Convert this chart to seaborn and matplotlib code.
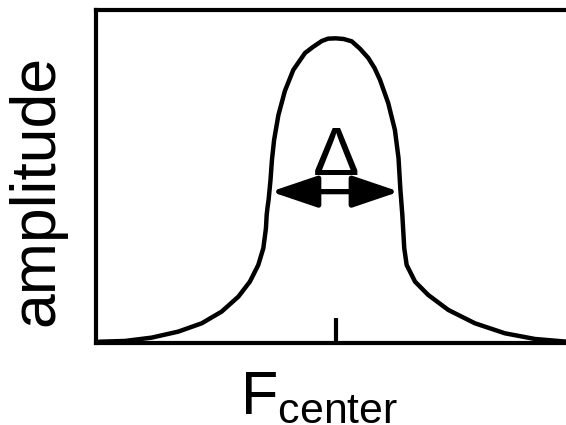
import numpy as np
import pandas as pd
import matplotlib
matplotlib.use("Agg")
import matplotlib.pyplot as plt
import seaborn as sns

# curve: offset from F_center (-1..1) and amplitude (0..1)
freq_left = [-1.000, -0.976, -0.879, -0.768, -0.657, -0.559, -0.476, -0.406, -0.358,
             -0.323, -0.302, -0.291, -0.288, -0.284, -0.280, -0.272, -0.266, -0.257,
             -0.239, -0.212, -0.177, -0.128, -0.095, -0.058, -0.032, 0.000]
amp_left = [0.004, 0.005, 0.007, 0.017, 0.035, 0.060, 0.095, 0.140, 0.185,
            0.235, 0.285, 0.345, 0.385, 0.410, 0.430, 0.490, 0.550, 0.610,
            0.685, 0.757, 0.820, 0.871, 0.889, 0.907, 0.914, 0.915]

freq_right = [0.033, 0.067, 0.101, 0.136, 0.162, 0.185, 0.219, 0.247, 0.262, 0.270,
              0.278, 0.286, 0.296, 0.331, 0.386, 0.470, 0.581, 0.706, 0.831, 0.961,
              1.000]
amp_right = [0.913, 0.906, 0.884, 0.856, 0.826, 0.790, 0.721, 0.640, 0.556, 0.460,
             0.385, 0.285, 0.235, 0.185, 0.145, 0.100, 0.060, 0.030, 0.013, 0.005,
             0.004]

# width marker (Delta) between the two flanks
delta_left = -0.271
delta_right = 0.265
delta_level = 0.455

xticks = [0.0]
xlabel = r"$\mathregular{F_{center}}$"
ylabel = "amplitude"

df = pd.DataFrame({"freq": freq_left + freq_right,
                   "amp": amp_left + amp_right})

sns.set_style("white")
plt.rcParams["font.family"] = ["Liberation Sans", "DejaVu Sans"]
plt.rcParams["text.color"] = "black"
plt.rcParams["axes.labelcolor"] = "black"

fig = plt.figure(figsize=(5.66, 4.25), dpi=100)
ax = fig.add_axes([96 / 566, 1 - 343.3 / 425, 479.4 / 566, 333.3 / 425])

sns.lineplot(data=df, x="freq", y="amp", sort=False, estimator=None,
             color="black", linewidth=3.2, ax=ax)

ax.set_xlim(-1, 1)
ax.set_ylim(0, 1)

ax.annotate("", xy=(delta_left, delta_level), xytext=(delta_right, delta_level),
            arrowprops=dict(arrowstyle="<|-|>,head_length=0.65,head_width=0.22",
                            mutation_scale=44, lw=3.8, color="black",
                            shrinkA=0, shrinkB=0))
ax.text(0.0, 0.505, "\u0394", ha="center", va="baseline", fontsize=50, color="black")

for side in ["left", "bottom", "top", "right"]:
    ax.spines[side].set_linewidth(3)
    ax.spines[side].set_color("black")

ax.set_xticks(xticks)
ax.set_yticks([])
ax.tick_params(axis="x", bottom=True, direction="in", length=18, width=3,
               color="black", labelbottom=False)

ax.set_xlabel(xlabel, fontsize=44, color="black")
ax.xaxis.label.set_va("baseline")
ax.xaxis.label.set_ha("left")
ax.xaxis.set_label_coords((240 - 96) / 479.4, -(413 - 343.3) / 333.3)

ax.set_ylabel("")
fig.text(36.7 / 566, 1 - 190 / 425, ylabel, rotation=90, ha="center", va="center",
         fontsize=45, color="black")

fig.savefig("out.png", dpi=100)
